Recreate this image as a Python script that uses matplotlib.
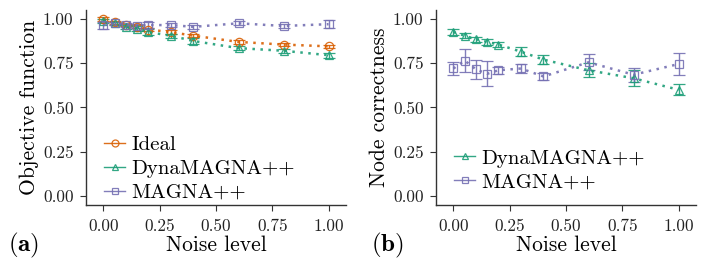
import matplotlib
matplotlib.use('Agg')
import matplotlib.pyplot as plt
from matplotlib.lines import Line2D

plt.rcParams['font.family'] = ['cmr10', 'DejaVu Serif']
plt.rcParams['mathtext.fontset'] = 'cm'
plt.rcParams['axes.formatter.use_mathtext'] = True

noise = [0.0, 0.05, 0.1, 0.15, 0.2, 0.3, 0.4, 0.6, 0.8, 1.0]

# panel (a): objective function
obj_ideal = [1.00, 0.98, 0.965, 0.955, 0.94, 0.925, 0.905, 0.87, 0.855, 0.845]
obj_ideal_err = [0.01, 0.008, 0.008, 0.008, 0.01, 0.01, 0.01, 0.01, 0.01, 0.01]
obj_dyna = [0.99, 0.975, 0.955, 0.945, 0.925, 0.905, 0.875, 0.835, 0.82, 0.795]
obj_dyna_err = [0.012, 0.01, 0.01, 0.012, 0.015, 0.012, 0.015, 0.012, 0.012, 0.015]
obj_magna = [0.965, 0.975, 0.965, 0.96, 0.965, 0.965, 0.955, 0.975, 0.96, 0.97]
obj_magna_err = [0.02, 0.01, 0.01, 0.012, 0.015, 0.01, 0.012, 0.012, 0.01, 0.022]

# panel (b): node correctness
nc_dyna = [0.925, 0.905, 0.885, 0.87, 0.855, 0.815, 0.77, 0.71, 0.665, 0.60]
nc_dyna_err = [0.015, 0.015, 0.015, 0.015, 0.015, 0.025, 0.025, 0.04, 0.045, 0.03]
nc_magna = [0.72, 0.765, 0.715, 0.69, 0.71, 0.72, 0.675, 0.755, 0.685, 0.745]
nc_magna_err = [0.035, 0.065, 0.055, 0.07, 0.02, 0.025, 0.02, 0.045, 0.04, 0.06]

c_ideal = '#D95F02'
c_dyna = '#1B9E77'
c_magna = '#7570B3'

W, H = 706, 272
fig = plt.figure(figsize=(W / 100, H / 100), dpi=100)
ax1 = fig.add_axes([86 / W, (H - 205) / H, 260 / W, 195 / H])
ax2 = fig.add_axes([436 / W, (H - 205) / H, 260 / W, 195 / H])

dots = (0, (1, 2.2))


def series(ax, y, err, color, marker):
    ax.errorbar(noise, y, yerr=err, color=color, marker=marker, mfc='none',
                mec=color, ms=6, mew=0.9, lw=1.8, ls=dots,
                elinewidth=1.0, capsize=4, capthick=1.0, alpha=0.9)
    return Line2D([], [], color=color, marker=marker, mfc='none', mec=color,
                  ms=5, mew=0.9, lw=1.0, alpha=0.9)


h_ideal = series(ax1, obj_ideal, obj_ideal_err, c_ideal, 'o')
h_dyna = series(ax1, obj_dyna, obj_dyna_err, c_dyna, '^')
h_magna = series(ax1, obj_magna, obj_magna_err, c_magna, 's')
series(ax2, nc_dyna, nc_dyna_err, c_dyna, '^')
series(ax2, nc_magna, nc_magna_err, c_magna, 's')

ticks = [0.0, 0.25, 0.5, 0.75, 1.0]
for ax, ylab in [(ax1, 'Objective function'), (ax2, 'Node correctness')]:
    ax.set_xlim(-0.0775, 1.0775)
    ax.set_ylim(-0.05, 1.05)
    ax.set_xticks(ticks)
    ax.set_yticks(ticks)
    ax.set_xticklabels(['%.2f' % t for t in ticks])
    ax.set_yticklabels(['%.2f' % t for t in ticks])
    for s in ['top', 'right']:
        ax.spines[s].set_visible(False)
    for s in ['left', 'bottom']:
        ax.spines[s].set_color('#333333')
        ax.spines[s].set_linewidth(1.0)
    ax.tick_params(direction='out', length=4, width=0.8, color='#333333',
                   labelsize=12.4, labelcolor='#222222', pad=5)
    ax.tick_params(axis='x', pad=6)
    ax.set_xlabel('Noise level', fontsize=15.5, labelpad=1)
    ax.set_ylabel(ylab, fontsize=15.5, labelpad=3)

ax1.text(-0.24, -0.21, r'$\mathbf{(a)}$', transform=ax1.transAxes,
         fontsize=18, ha='center', va='center')
ax2.text(-0.185, -0.21, r'$\mathbf{(b)}$', transform=ax2.transAxes,
         fontsize=18, ha='center', va='center')

leg_kw = dict(loc='lower left', frameon=False, fontsize=15,
              handlelength=1.0, handletextpad=0.3, labelspacing=0.25,
              borderaxespad=0.0, borderpad=0.0)
ax1.legend([h_ideal, h_dyna, h_magna], ['Ideal', 'DynaMAGNA++', 'MAGNA++'],
           bbox_to_anchor=(0.07, 0.015), **leg_kw)
ax2.legend([h_dyna, h_magna], ['DynaMAGNA++', 'MAGNA++'],
           bbox_to_anchor=(0.07, 0.07), **leg_kw)

fig.savefig('out.png', dpi=100)
